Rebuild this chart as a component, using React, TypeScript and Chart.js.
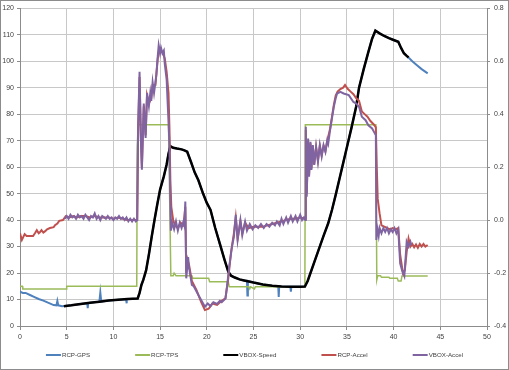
import React, { useEffect, useRef } from "react";
import { Chart, registerables } from "chart.js";

Chart.register(...registerables);

// ---------- Data ----------
const seriesNames = ["RCP-GPS", "RCP-TPS", "VBOX-Speed", "RCP-Accel", "VBOX-Accel"];
const seriesColors = ["#4F81BD", "#9BBB59", "#000000", "#C0504D", "#8064A2"];

const xTickStep = 5;
const leftTickStep = 10;
const rightTickStep = 0.2;

// RCP-GPS (left axis, speed)
const gpsX = [0, 0.3, 0.6, 1.07, 1.5, 2.0, 2.5, 3.0, 3.6, 3.9, 4.0, 4.1, 4.5, 5.5, 6.5, 7.2, 7.25, 7.3, 7.5, 8.5, 8.6, 8.7, 9.5, 10.5, 11.35, 11.4, 11.45, 12.6,
  12.8, 13.0, 13.2, 13.5, 13.8, 14.1, 14.4, 14.7, 15.0, 15.4, 15.7, 15.9, 16.1, 16.4, 16.8, 17.3, 17.6, 17.9, 18.3, 18.7, 19.1, 19.6, 20.0, 20.4, 20.9, 21.4, 21.9, 22.3, 22.6, 23.0, 23.5, 24.0,
  24.3, 24.35, 24.4, 25.0, 26.0, 27.0, 27.65, 27.7, 27.75, 28.0, 28.95, 29.0, 29.05, 30.0, 30.5, 30.8, 31.1, 31.5, 32.0, 32.5, 33.0, 33.4, 33.8, 34.2, 34.6, 35.0, 35.5, 36.0, 36.3, 36.8, 37.3, 37.7, 38.05,
  38.5, 39.0, 39.5, 40.0, 40.5, 40.8, 41.1, 41.4, 41.6, 42.0, 42.5, 43.0, 43.65];
const gpsY = [13, 12.5, 12.5, 11.7, 11, 10.2, 9.6, 8.8, 7.9, 7.8, 9.5, 7.8, 7.5, 7.8, 8.3, 8.6, 6.7, 8.6, 8.8, 9.2, 12.6, 9.2, 9.6, 9.9, 10.1, 8.6, 10.1, 10.4,
  12.5, 15.5, 17.4, 21, 27, 33.7, 40, 46, 51.5, 56.5, 61, 65, 67.9, 67.3, 67, 66.7, 66.3, 65.8, 62, 58, 55, 50, 46.5, 43.8, 37, 31, 25, 20.5, 19, 18.3, 17.6, 17.2,
  17.1, 11.5, 17.0, 16.4, 15.7, 15.2, 15.0, 11, 15.0, 14.9, 14.8, 13, 14.8, 14.8, 14.9, 17, 20, 24, 29, 34, 38.8, 43.8, 49.5, 55.5, 61.5, 67.5, 75, 83, 90, 97, 103.5, 108.5, 111.5,
  110.5, 109.5, 108.7, 108, 107.3, 105, 103, 102, 101.4, 100, 98.5, 97, 95.4];

// RCP-TPS (left axis)
const tpsX = [0, 0.25, 0.3, 4.95, 5.0, 12.5, 12.55, 12.65, 15.9, 16.15, 16.4, 16.5, 16.7, 18.4, 18.5, 20.2, 20.3, 22.3, 22.4, 24.5, 24.6, 24.7, 25.1, 25.2, 30.5, 30.55,
  38.1, 38.2, 38.3, 38.6, 38.7, 39.5, 39.6, 40.4, 40.5, 40.8, 40.9, 43.65];
const tpsY = [15, 15, 14, 14, 15, 15, 68, 76, 76, 19, 19, 20, 19, 19, 18, 18, 16.7, 16.7, 14.8, 14.8, 14, 14.8, 14, 14.8, 14.8, 76,
  76, 17.4, 19, 19, 18.4, 18.4, 18, 18, 17, 17, 18.9, 18.9];

// VBOX-Speed (left axis)
const speedX = [4.7, 5.5, 6.5, 7.5, 8.5, 9.5, 10.5, 11.5, 12.6, 12.8, 13.0, 13.2, 13.5, 13.8, 14.1, 14.4, 14.7, 15.0, 15.4, 15.7, 15.9, 16.1, 16.4, 16.8, 17.3, 17.6, 17.9,
  18.3, 18.7, 19.1, 19.6, 20.0, 20.4, 20.9, 21.4, 21.9, 22.3, 22.6, 23.0, 23.5, 24.0, 25.0, 26.0, 27.0, 28.0, 29.0, 30.0, 30.5, 30.8, 31.1, 31.5, 32.0, 32.5, 33.0,
  33.4, 33.8, 34.2, 34.6, 35.0, 35.5, 36.0, 36.3, 36.8, 37.3, 37.7, 38.05, 38.5, 39.0, 39.5, 40.0, 40.5, 40.8, 41.1, 41.4, 41.6];
const speedY = [7.5, 7.8, 8.3, 8.8, 9.2, 9.6, 9.9, 10.2, 10.4, 12.5, 15.5, 17.4, 21, 27, 33.7, 40, 46, 51.5, 56.5, 61, 65, 67.9, 67.3, 67, 66.7, 66.3, 65.8,
  62, 58, 55, 50, 46.5, 43.8, 37, 31, 25, 20.5, 19, 18.3, 17.6, 17.2, 16.4, 15.7, 15.2, 14.9, 14.8, 14.8, 14.9, 17, 20, 24, 29, 34, 38.8,
  43.8, 49.5, 55.5, 61.5, 67.5, 75, 83, 90, 97, 103.5, 108.5, 111.5, 110.5, 109.5, 108.7, 108, 107.3, 105, 103, 102, 101.4];

// RCP-Accel (right axis, g)
const rcpAccX = [0, 0.2, 0.5, 0.7, 1.4, 1.6, 1.8, 2.0, 2.1, 2.3, 2.5, 2.7, 2.9, 3.2, 3.6, 3.75, 4.0, 4.2, 4.6, 4.9, 5.3, 5.7, 6.1, 6.5, 7.0, 7.5, 8.0, 8.5, 9.0, 9.5,
  10.0, 10.5, 11.0, 11.5, 12.0, 12.5, 12.55, 12.65, 12.8, 12.95, 13.05, 13.25, 13.45, 13.6, 13.8, 14.05, 14.2, 14.5, 14.75, 14.9, 15.1, 15.3, 15.5, 15.7, 15.9, 16.0,
  16.1, 16.2, 16.4, 16.6, 16.9, 17.2, 17.5, 17.7, 17.8, 17.9, 18.1, 18.4, 18.9, 19.4, 19.8, 20.2, 20.6, 21.1, 21.6, 22.0, 22.3, 22.6, 22.9, 23.1, 23.3, 23.6, 23.8,
  24.1, 24.5, 25.0, 25.5, 26.0, 26.5, 27.0, 27.5, 28.0, 28.5, 29.0, 29.5, 30.0, 30.55, 30.6, 30.7, 30.85, 30.95, 31.1, 31.2, 31.35, 31.5, 31.7, 31.9, 32.1, 32.3,
  32.5, 32.7, 32.9, 33.2, 33.4, 33.6, 33.8, 34.0, 34.3, 34.6, 34.8, 35.1, 35.4, 35.7, 36.0, 36.3, 36.6, 36.9, 37.2, 37.5, 37.9, 38.1, 38.2, 38.3, 38.5, 38.7, 39.0,
  39.3, 39.6, 39.9, 40.2, 40.5, 40.7, 41.0, 41.2, 41.4, 41.6, 41.8, 42.0, 42.2, 42.4, 42.6, 42.8, 43.0, 43.2, 43.4, 43.65];
const rcpAccY = [-0.05, -0.075, -0.053, -0.06, -0.06, -0.05, -0.038, -0.05, -0.047, -0.038, -0.047, -0.042, -0.035, -0.03, -0.027, -0.019, -0.013, -0.003, 0.0, 0.015,
  0.01, 0.015, 0.01, 0.015, 0.015, 0.01, 0.015, 0.01, 0.01, 0.01, 0.005, 0.01, 0.005, 0.0, 0.0, 0.0, 0.0, 0.34, 0.54, 0.30, 0.20, 0.43, 0.32, 0.47, 0.44, 0.46, 0.51,
  0.51, 0.61, 0.64, 0.64, 0.63, 0.61, 0.56, 0.48, 0.35, 0.15, 0.05, 0.0, -0.02, -0.03, -0.01, -0.02, 0.05, -0.20, -0.145, -0.17, -0.23, -0.265, -0.31, -0.34, -0.335,
  -0.315, -0.32, -0.305, -0.295, -0.22, -0.12, -0.05, 0.01, -0.07, -0.005, -0.05, -0.01, -0.03, -0.025, -0.025, -0.025, -0.02, -0.015, -0.01, -0.005, 0.0, 0.005,
  0.005, 0.01, 0.005, 0.34, 0.10, 0.30, 0.17, 0.29, 0.195, 0.28, 0.21, 0.275, 0.225, 0.28, 0.245, 0.28, 0.26, 0.30, 0.345, 0.39, 0.435, 0.47, 0.485, 0.495, 0.50,
  0.51, 0.495, 0.485, 0.475, 0.46, 0.45, 0.41, 0.40, 0.39, 0.375, 0.36, 0.35, 0.20, 0.08, 0.025, -0.02, -0.025, -0.03, -0.035, -0.03, -0.035, -0.03, -0.13, -0.201,
  -0.19, -0.12, -0.07, -0.10, -0.09, -0.103, -0.092, -0.105, -0.09, -0.10, -0.09, -0.10, -0.094];

// VBOX-Accel (right axis, g)
const vboxAccX = [4.8, 5.0, 5.2, 5.4, 5.6, 5.8, 6.0, 6.2, 6.4, 6.6, 6.8, 7.0, 7.2, 7.4, 7.6, 7.8, 8.0, 8.2, 8.4, 8.6, 8.8, 9.0, 9.2, 9.4, 9.6, 9.8, 10.0, 10.2, 10.4,
  10.6, 10.8, 11.0, 11.2, 11.4, 11.6, 11.8, 12.0, 12.2, 12.4, 12.55, 12.65, 12.8, 12.95, 13.05, 13.25, 13.45, 13.6, 13.8, 13.95, 14.05, 14.2, 14.35, 14.5, 14.6,
  14.75, 14.85, 15.0, 15.1, 15.25, 15.4, 15.5, 15.7, 15.85, 16.0, 16.1, 16.15, 16.3, 16.5, 16.7, 16.9, 17.1, 17.3, 17.5, 17.6, 17.7, 17.8, 18.0, 18.1, 18.4, 18.6,
  18.9, 19.2, 19.5, 19.8, 20.1, 20.4, 20.7, 21.1, 21.4, 21.6, 22.0, 22.2, 22.4, 22.7, 22.9, 23.1, 23.3, 23.6, 23.8, 24.1, 24.3, 24.6, 24.9, 25.2, 25.5, 25.8, 26.1,
  26.4, 26.7, 27.0, 27.3, 27.5, 27.8, 28.0, 28.2, 28.5, 28.7, 29.0, 29.2, 29.5, 29.7, 30.0, 30.2, 30.4, 30.55, 30.6, 30.7, 30.85, 30.95, 31.1, 31.2, 31.35, 31.5,
  31.7, 31.9, 32.1, 32.3, 32.5, 32.7, 32.9, 33.0, 33.2, 33.4, 33.6, 33.8, 33.95, 34.3, 34.65, 35.2, 35.7, 36.0, 36.3, 36.6, 37.0, 37.3, 37.7, 37.9, 38.1, 38.15,
  38.25, 38.4, 38.5, 38.7, 38.9, 39.1, 39.3, 39.5, 39.7, 39.9, 40.1, 40.3, 40.5, 40.7, 40.9, 41.15, 41.4, 41.6, 41.8, 41.9];
const vboxAccY = [0.005, 0.015, 0.005, 0.02, 0.01, 0.015, 0.005, 0.02, 0.01, 0.015, 0.005, 0.02, 0.01, 0.0, 0.015, 0.01, 0.025, 0.005, 0.015, 0.0, 0.015, 0.01,
  0.005, 0.015, 0.005, 0.01, 0.0, 0.01, 0.005, 0.015, 0.005, 0.01, 0.0, 0.01, -0.005, 0.005, -0.005, 0.005, -0.005, 0.0, 0.36, 0.56, 0.30, 0.19, 0.44, 0.31, 0.48,
  0.43, 0.48, 0.45, 0.52, 0.48, 0.52, 0.55, 0.62, 0.66, 0.63, 0.65, 0.63, 0.64, 0.59, 0.53, 0.41, 0.29, 0.05, -0.04, -0.01, -0.035, -0.005, -0.04, -0.01, -0.03,
  -0.005, -0.02, 0.07, -0.22, -0.14, -0.18, -0.245, -0.25, -0.27, -0.29, -0.308, -0.327, -0.315, -0.325, -0.31, -0.317, -0.305, -0.31, -0.296, -0.24, -0.176, -0.10,
  -0.063, 0.02, -0.075, 0.0, -0.057, -0.006, -0.04, -0.015, -0.035, -0.02, -0.03, -0.015, -0.03, -0.015, -0.025, -0.01, -0.02, -0.005, -0.02, 0.005, -0.015, 0.01,
  -0.01, 0.015, -0.005, 0.015, -0.005, 0.02, 0.0, 0.01, 0.0, 0.352, 0.088, 0.308, 0.164, 0.296, 0.189, 0.283, 0.208, 0.277, 0.22, 0.283, 0.24, 0.283, 0.258, 0.302,
  0.289, 0.34, 0.384, 0.428, 0.46, 0.478, 0.484, 0.478, 0.472, 0.446, 0.44, 0.428, 0.39, 0.377, 0.358, 0.346, 0.333, 0.32, -0.075, -0.03, -0.06, -0.03, -0.05, -0.03,
  -0.045, -0.03, -0.05, -0.035, -0.045, -0.03, -0.05, -0.035, -0.163, -0.189, -0.211, -0.082, -0.10, -0.082, -0.095];

const toPoints = (xs: number[], ys: number[]) => xs.map((x, i) => ({ x, y: ys[i] }));

const FONT = '"Liberation Sans", Arial, sans-serif';
const TEXT_COLOR = "#404040";
const GRID_COLOR = "#c8c8c8";
const AXIS_COLOR = "#8c8c8c";

const frameAndLegend = {
  id: "frameAndLegend",
  afterDraw(chart: any) {
    const { ctx, width, height } = chart;
    ctx.save();
    // legend
    ctx.font = `6.2px ${FONT}`;
    ctx.textBaseline = "middle";
    const lineLen = 15;
    const gapText = 1;
    const gapItem = 45;
    const ds = chart.data.datasets;
    const widths = ds.map((d: any) => lineLen + gapText + ctx.measureText(d.label).width);
    const total = widths.reduce((a: number, b: number) => a + b, 0) + gapItem * (ds.length - 1);
    let x = (width - total) / 2;
    const y = 355;
    ds.forEach((d: any, i: number) => {
      ctx.strokeStyle = d.borderColor;
      ctx.lineWidth = 2;
      ctx.beginPath();
      ctx.moveTo(x, y);
      ctx.lineTo(x + lineLen, y);
      ctx.stroke();
      ctx.fillStyle = TEXT_COLOR;
      ctx.textAlign = "left";
      ctx.fillText(d.label, x + lineLen + gapText, y + 0.5);
      x += widths[i] + gapItem;
    });
    // outer frame
    ctx.strokeStyle = AXIS_COLOR;
    ctx.lineWidth = 1;
    ctx.strokeRect(0.5, 0.5, width - 1, height - 1);
    ctx.restore();
  },
};

export default function App() {
  const ref = useRef<HTMLCanvasElement | null>(null);

  useEffect(() => {
    document.body.style.margin = "0";
    const canvas = ref.current;
    if (!canvas) return;
    const xs = [gpsX, tpsX, speedX, rcpAccX, vboxAccX];
    const ys = [gpsY, tpsY, speedY, rcpAccY, vboxAccY];
    const axes = ["y", "y", "y", "y1", "y1"];
    const widthsL = [2, 1.5, 2.5, 2, 2];
    const orders = [5, 4, 3, 2, 1];
    const chart = new Chart(canvas, {
      type: "line",
      data: {
        datasets: seriesNames.map((name, i) => ({
          label: name,
          data: toPoints(xs[i], ys[i]),
          borderColor: seriesColors[i],
          backgroundColor: seriesColors[i],
          borderWidth: widthsL[i],
          pointRadius: 0,
          tension: 0,
          fill: false,
          yAxisID: axes[i],
          order: orders[i],
        })),
      },
      options: {
        animation: false,
        responsive: false,
        devicePixelRatio: 1,
        layout: { padding: { top: 8, left: 0, right: 0, bottom: 26 } },
        plugins: { legend: { display: false }, tooltip: { enabled: false } },
        scales: {
          x: {
            type: "linear",
            min: 0,
            max: 50,
            afterFit: (s: any) => { s.height = 18; },
            ticks: { stepSize: xTickStep, font: { family: FONT, size: 7 }, color: TEXT_COLOR, padding: 3, maxRotation: 0 },
            grid: { color: GRID_COLOR, tickColor: AXIS_COLOR, tickLength: 4 },
            border: { color: AXIS_COLOR },
          },
          y: {
            position: "left",
            min: 0,
            max: 120,
            afterFit: (s: any) => { s.width = 20; },
            ticks: { stepSize: leftTickStep, font: { family: FONT, size: 7 }, color: TEXT_COLOR, padding: 3 },
            grid: { color: GRID_COLOR, tickColor: AXIS_COLOR, tickLength: 3 },
            border: { color: AXIS_COLOR },
          },
          y1: {
            position: "right",
            min: -0.4,
            max: 0.8,
            afterFit: (s: any) => { s.width = 22; },
            ticks: { stepSize: rightTickStep, font: { family: FONT, size: 7 }, color: TEXT_COLOR, padding: 4 },
            grid: { drawOnChartArea: false, tickColor: AXIS_COLOR, tickLength: 3 },
            border: { color: AXIS_COLOR },
          },
        },
      },
      plugins: [frameAndLegend],
    });
    return () => chart.destroy();
  }, []);

  return (
    <div style={{ width: 509, height: 370 }}>
      <canvas ref={ref} width={509} height={370} style={{ width: 509, height: 370, display: "block" }} />
    </div>
  );
}
